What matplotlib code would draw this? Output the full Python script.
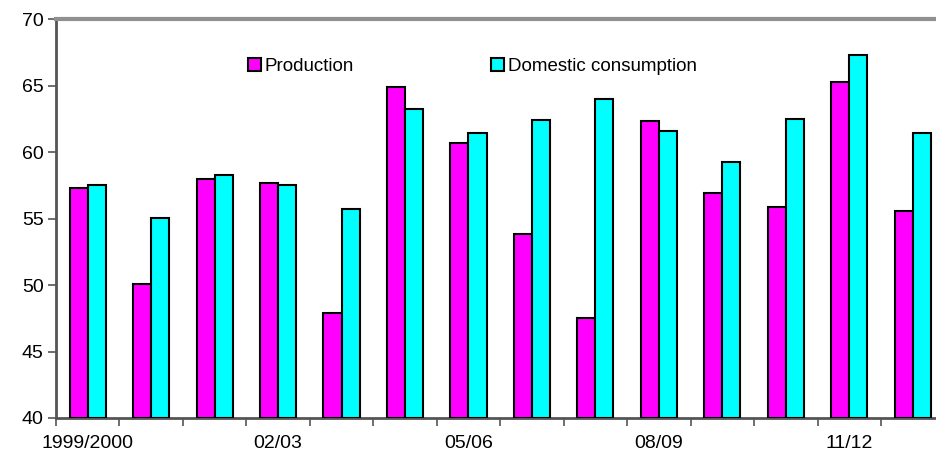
import matplotlib.pyplot as plt
import numpy as np

plt.rcParams['font.family'] = ['Liberation Sans', 'DejaVu Sans']

seasons = ['1999/2000', '00/01', '01/02', '02/03', '03/04', '04/05', '05/06',
           '06/07', '07/08', '08/09', '09/10', '10/11', '11/12', '12/13']
production = [57.3, 50.05, 58.0, 57.65, 47.9, 64.9, 60.65,
              53.8, 47.55, 62.3, 56.95, 55.9, 65.25, 55.6]
consumption = [57.55, 55.05, 58.3, 57.55, 55.7, 63.2, 61.45,
               62.4, 64.0, 61.6, 59.25, 62.5, 67.3, 61.45]
shown = ['1999/2000', '02/03', '05/06', '08/09', '11/12']

fig = plt.figure(figsize=(9.36, 4.54), dpi=100)
ax = fig.add_axes([56 / 936, 36 / 454, 880 / 936, 399 / 454])

x = np.arange(len(seasons))
w = 0.285
ax.bar(x - w / 2, [p - 40 for p in production], w, bottom=40, color='#ff00ff',
       edgecolor='black', linewidth=1.5, label='Production', zorder=3)
ax.bar(x + w / 2, [c - 40 for c in consumption], w, bottom=40, color='#00ffff',
       edgecolor='black', linewidth=1.5, label='Domestic consumption', zorder=3)

ax.set_ylim(40, 70)
ax.set_xlim(-0.5, -0.5 + 880 / 63.46)
ax.set_yticks(range(40, 71, 5))

# tick marks at group boundaries, labels at every third group
ax.set_xticks(np.arange(-0.5, len(seasons) - 0.5, 1.0))
ax.set_xticklabels([])
ax.set_xticks([seasons.index(s) for s in shown], minor=True)
ax.set_xticklabels(shown, minor=True)
ax.tick_params(axis='x', which='major', length=6, width=1.2, color='#555555')
ax.tick_params(axis='x', which='minor', length=0, labelsize=14, pad=12)
ax.tick_params(axis='y', length=6, width=1.2, color='#555555', labelsize=14, pad=3)

for side in ['left', 'bottom']:
    ax.spines[side].set_color('#555555')
    ax.spines[side].set_linewidth(2)
ax.spines['top'].set_color('#909090')
ax.spines['top'].set_linewidth(3)
ax.spines['right'].set_visible(False)

ax.legend(loc='center left', bbox_to_anchor=(0.207, 0.88), ncol=2, frameon=False,
          fontsize=13.5, handlelength=0.7, handleheight=0.7, handletextpad=0.2,
          columnspacing=7.3, borderpad=0)

fig.savefig('out.png', dpi=100)
